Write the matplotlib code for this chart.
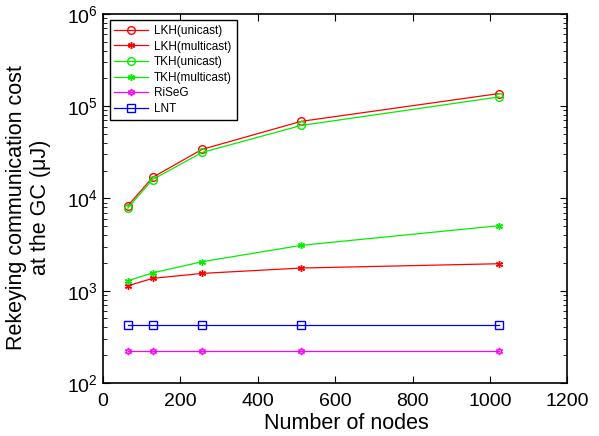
import matplotlib
matplotlib.use("Agg")
import matplotlib.pyplot as plt

plt.rcParams['font.family'] = ['Liberation Sans', 'DejaVu Sans']
plt.rcParams['mathtext.fontset'] = 'custom'
plt.rcParams['mathtext.rm'] = 'Liberation Sans'
plt.rcParams['mathtext.it'] = 'Liberation Sans'

nodes = [64, 128, 256, 512, 1024]
lkh_unicast = [8300, 16900, 34000, 68400, 137000]
lkh_multicast = [1130, 1360, 1540, 1760, 1960]
tkh_unicast = [7850, 16000, 31500, 61700, 126000]
tkh_multicast = [1280, 1560, 2060, 3100, 5070]
riseg = [220, 220, 220, 220, 220]
lnt = [421, 421, 421, 421, 421]

fig = plt.figure(figsize=(5.99, 4.36), dpi=100)
ax = fig.add_axes([0.172, 0.1216, 0.775, 0.8466])

ast = (6, 2, 0)
lw = 0.9
ax.plot(nodes, lkh_unicast, color='#ff0000', marker='o', mfc='none', ms=5.5, lw=lw, label='LKH(unicast)')
ax.plot(nodes, lkh_multicast, color='#ff0000', marker=ast, ms=5, mew=1.0, lw=lw, label='LKH(multicast)')
ax.plot(nodes, tkh_unicast, color='#00ee00', marker='o', mfc='none', ms=5.5, lw=lw, label='TKH(unicast)')
ax.plot(nodes, tkh_multicast, color='#00ee00', marker=ast, ms=5, mew=1.0, lw=lw, label='TKH(multicast)')
ax.plot(nodes, riseg, color='#ff00ff', marker=(6, 1, 0), mfc='none', ms=5, lw=lw, label='RiSeG')
ax.plot(nodes, lnt, color='#0000ff', marker='s', mfc='none', ms=5.5, lw=lw, label='LNT')

ax.set_yscale('log')
ax.set_xlim(0, 1200)
ax.set_ylim(100, 1e6)
ax.set_xticks([0, 200, 400, 600, 800, 1000, 1200])
ax.tick_params(axis='both', which='both', direction='in', top=True, right=True, labelsize=14)
ax.tick_params(axis='x', pad=7)
ax.tick_params(which='major', length=5)
ax.tick_params(which='minor', length=3)
for s in ax.spines.values():
    s.set_linewidth(1.2)

ax.set_xlabel('Number of nodes', fontsize=15.5)
ax.xaxis.set_label_coords(0.525, -0.08)
ax.set_ylabel('Rekeying communication cost\nat the GC (μJ)', fontsize=15.5)
ax.yaxis.set_label_coords(-0.112, 0.476)

leg = ax.legend(loc='upper left', fontsize=8.5, fancybox=False, edgecolor='black',
                framealpha=1, borderaxespad=0.55, handlelength=2.9, labelspacing=0.3,
                borderpad=0.4, handletextpad=0.45)
leg.get_frame().set_linewidth(1.0)

fig.savefig('out.png', dpi=100)
